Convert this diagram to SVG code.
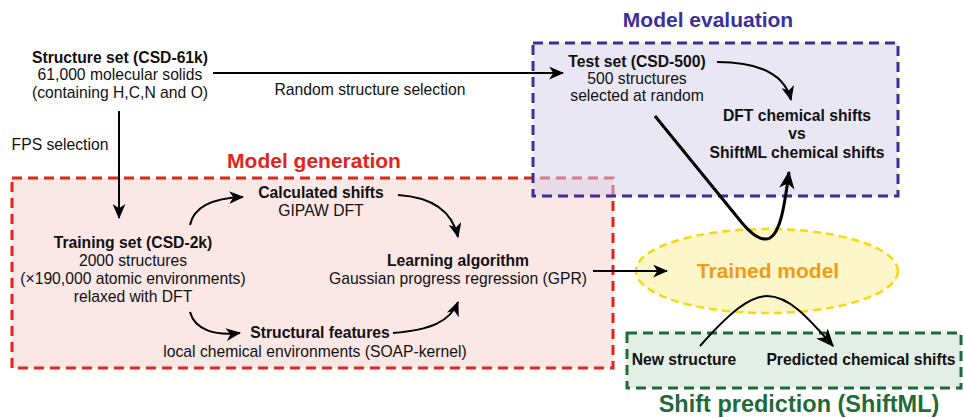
<svg xmlns="http://www.w3.org/2000/svg" width="964" height="418" viewBox="0 0 964 418">
<defs>
<style>
text{font-family:"Liberation Sans",Arial,sans-serif;font-size:15.7px;fill:#111;text-anchor:middle}
.b{font-weight:bold}
.title{font-weight:bold;font-size:21px}
.ln{fill:none;stroke:#000;stroke-width:2}
.thick{fill:none;stroke:#000;stroke-width:3}
</style>
<marker id="ah" viewBox="0 0 14 12" refX="13" refY="6" markerWidth="15" markerHeight="13" markerUnits="userSpaceOnUse" orient="auto">
<path d="M0,0 L14,6 L0,12 L4,6 z" fill="#000"/>
</marker>
<marker id="ahb" viewBox="0 0 14 12" refX="13" refY="6" markerWidth="18" markerHeight="16" markerUnits="userSpaceOnUse" orient="auto">
<path d="M0,0 L14,6 L0,12 L4,6 z" fill="#000"/>
</marker>
</defs>
<rect width="964" height="418" fill="#fff"/>

<g id="model-generation">
<rect x="12" y="178" width="601" height="190" fill="#fae7e6" stroke="#e0261b" stroke-width="3" stroke-dasharray="10 6"/>
<text x="314" y="168" class="title" style="fill:#e0261b">Model generation</text>
</g>

<g id="model-evaluation">
<rect x="533" y="43" width="365" height="153" fill="#d3cfe7" fill-opacity="0.5" stroke="#3d2f9b" stroke-width="3" stroke-dasharray="10 6"/>
<text x="708" y="27" class="title" style="fill:#3d2f9b">Model evaluation</text>
</g>

<g id="shift-prediction">
<rect x="627" y="333" width="334" height="55" fill="#e2eee6" stroke="#1f6b38" stroke-width="3" stroke-dasharray="10 6"/>
<text x="799" y="412" class="title" style="fill:#1f6b38;font-size:23.5px">Shift prediction (ShiftML)</text>
</g>

<g id="trained-model">
<ellipse cx="767" cy="271" rx="131" ry="42" fill="#fdf6c8" stroke="#f5d90a" stroke-width="2.5" stroke-dasharray="8 5"/>
<text x="768" y="278" class="title" style="fill:#f39a12">Trained model</text>
</g>

<g id="structure-set">
<text x="120" y="63" class="b">Structure set (CSD-61k)</text>
<text x="120" y="80">61,000 molecular solids</text>
<text x="120" y="98">(containing H,C,N and O)</text>
</g>

<g id="test-set">
<text x="637" y="67" class="b">Test set (CSD-500)</text>
<text x="637" y="84">500 structures</text>
<text x="637" y="101">selected at random</text>
</g>

<g id="comparison">
<text x="797" y="121" class="b">DFT chemical shifts</text>
<text x="797" y="139" class="b">vs</text>
<text x="797" y="158" class="b">ShiftML chemical shifts</text>
</g>

<g id="training-set">
<text x="133" y="248" class="b">Training set (CSD-2k)</text>
<text x="133" y="266">2000 structures</text>
<text x="133" y="284">(×190,000 atomic environments)</text>
<text x="133" y="302">relaxed with DFT</text>
</g>

<g id="calculated-shifts">
<text x="321" y="198" class="b">Calculated shifts</text>
<text x="321" y="216">GIPAW DFT</text>
</g>

<g id="learning-algorithm">
<text x="458" y="266" class="b">Learning algorithm</text>
<text x="458" y="284">Gaussian progress regression (GPR)</text>
</g>

<g id="structural-features">
<text x="320" y="338" class="b">Structural features</text>
<text x="315" y="357">local chemical environments (SOAP-kernel)</text>
</g>

<g id="new-structure">
<text x="684" y="365" class="b">New structure</text>
</g>

<g id="predicted-shifts">
<text x="861" y="365" class="b">Predicted chemical shifts</text>
</g>

<g id="connectors">
<path class="ln" d="M213,73 L563,73" marker-end="url(#ah)"/>
<text x="370" y="95">Random structure selection</text>
<path class="ln" d="M119,111 L119,218" marker-end="url(#ah)"/>
<text x="60" y="150">FPS selection</text>
<path class="ln" d="M717,62 C760,62 785,75 791,100" marker-end="url(#ah)"/>
<path class="thick" d="M655,116 L738,218 C752,236 762,242 770,238 C780,232 784,210 789,172" marker-end="url(#ahb)"/>
<path class="ln" d="M190,225 C194,205 215,198 243,197" marker-end="url(#ah)"/>
<path class="ln" d="M190,312 C195,330 215,336 240,333" marker-end="url(#ah)"/>
<path class="ln" d="M398,195 C430,197 452,210 458,237" marker-end="url(#ah)"/>
<path class="ln" d="M393,333 C430,330 450,322 458,302" marker-end="url(#ah)"/>
<path class="ln" d="M593,271 L667,271" marker-end="url(#ah)"/>
<path class="ln" d="M700,346 C730,312 750,296 767,296 C790,296 810,320 833,346" marker-end="url(#ahb)"/>
</g>
</svg>
